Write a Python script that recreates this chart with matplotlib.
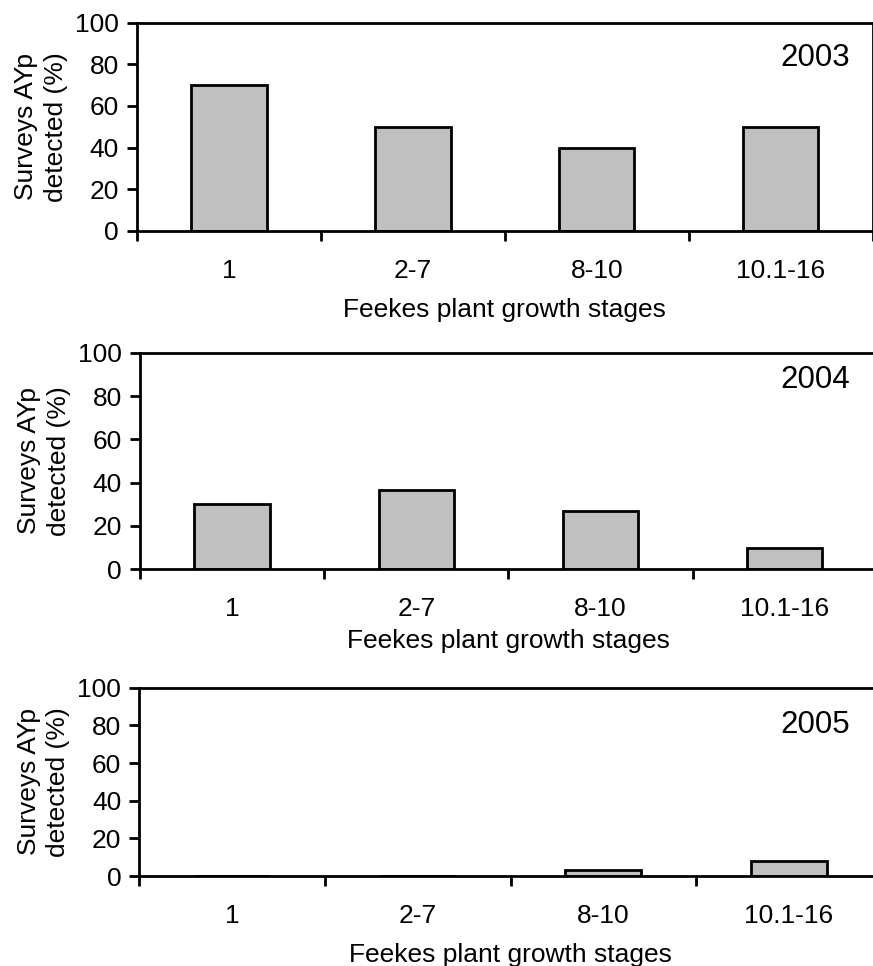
import matplotlib
matplotlib.use("Agg")
import matplotlib.pyplot as plt

plt.rcParams['font.family'] = ['Liberation Sans', 'DejaVu Sans']

# growth stage categories and % of surveys with AYp detected
stages = ["1", "2-7", "8-10", "10.1-16"]
years = ["2003", "2004", "2005"]
pct_2003 = [70, 50, 40, 50]
pct_2004 = [30, 36.7, 27, 10]
pct_2005 = [0, 0, 3, 8]

W, H = 873, 966
fig = plt.figure(figsize=(W / 100, H / 100), dpi=100)

# panel boxes in pixels: left, right, top, bottom
boxes = [(137, 872.5, 22.5, 231),
         (140, 876.7, 352.7, 569.3),
         (139.3, 881.7, 687.7, 876)]
year_off = [-21, -12, -22]
xlab_pad = [11, 6, 11]

for vals, yr, box, yoff, lp in zip([pct_2003, pct_2004, pct_2005], years, boxes, year_off, xlab_pad):
    l, r, t, b = box
    ax = fig.add_axes([l / W, 1 - b / H, (r - l) / W, (b - t) / H])
    x = list(range(len(stages)))
    ax.bar(x, vals, width=0.41, color="#c0c0c0", edgecolor="black", linewidth=2, zorder=3)
    ax.set_xlim(-0.5, len(stages) - 0.5)
    ax.set_ylim(0, 100)
    ax.set_yticks([0, 20, 40, 60, 80, 100])

    # ticks at category edges, labels at centres
    ax.set_xticks([i - 0.5 for i in range(len(stages) + 1)])
    ax.set_xticklabels([])
    ax.set_xticks(x, minor=True)
    ax.set_xticklabels(stages, minor=True, fontsize=19)
    ax.tick_params(axis="x", which="minor", length=0, pad=20)
    ax.tick_params(axis="x", which="major", direction="out", length=7, width=2)
    ax.tick_params(axis="y", direction="out", length=7, width=2, labelsize=19, pad=6)

    for s in ax.spines.values():
        s.set_linewidth(2)
        s.set_zorder(4)

    ax.set_xlabel("Feekes plant growth stages", fontsize=19, labelpad=lp)
    ax.set_ylabel("Surveys AYp\ndetected (%)", fontsize=19, linespacing=1.3, labelpad=5)

    ax.annotate(yr, xy=(1, 1), xycoords="axes fraction",
                xytext=(-22 - (r - 872.5), yoff), textcoords="offset pixels",
                ha="right", va="top", fontsize=22.5)

fig.savefig("out.png", dpi=100)
